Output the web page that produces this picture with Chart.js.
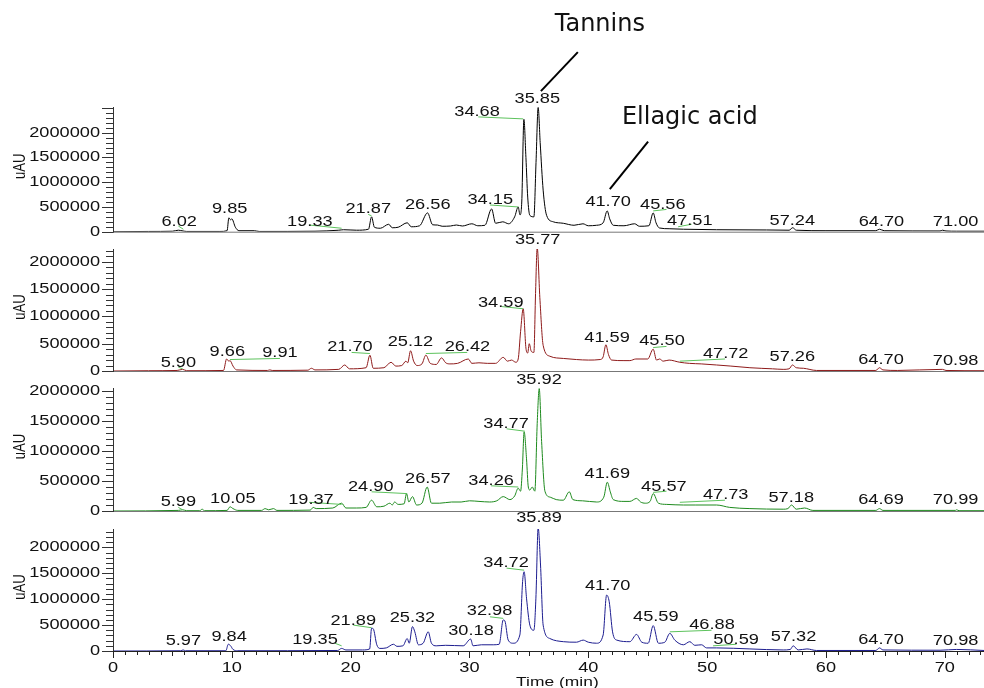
<!DOCTYPE html>
<html>
<head>
<meta charset="utf-8">
<title>HPLC chromatograms</title>
<script src="https://cdn.jsdelivr.net/npm/chart.js@4.4.1/dist/chart.umd.min.js"></script>
<style>
  html, body { margin: 0; padding: 0; background: #fff; }
  #wrap { position: relative; width: 984px; height: 688px; overflow: hidden; }
  #wrap canvas { position: absolute; left: 0; top: 0; }
</style>
</head>
<body>
<div id="wrap">
  <canvas id="c1" width="984" height="688"></canvas>
  <canvas id="c2" width="984" height="688"></canvas>
  <canvas id="c3" width="984" height="688"></canvas>
  <canvas id="c4" width="984" height="688"></canvas>
</div>
<script>
// ---- traces (time in min, signal in uAU) ----
const p1Times = [0, 3, 5.0, 5.5, 5.9, 6.2, 9.0, 9.6, 9.75, 9.9, 10.0, 10.3, 10.6, 11.9, 12.3, 17.0, 19.0, 19.4, 20.5, 21.5, 21.76, 22.0, 22.5, 23.2, 23.5, 24.0, 24.76, 25.1, 25.8, 26.47, 26.9, 27.3, 27.7, 28.4, 28.9, 29.4, 30.2, 30.7, 31.3, 31.86, 32.2, 32.8, 33.3, 33.8, 34.1, 34.25, 34.4, 34.58, 34.75, 34.9, 35.08, 35.42, 35.6, 35.78, 35.95, 36.2, 36.49, 37.05, 37.9, 38.8, 39.55, 40.0, 40.7, 41.25, 41.59, 41.8, 42.1, 43.0, 43.9, 44.3, 45.1, 45.46, 45.7, 45.99, 46.8, 48.0, 50.8, 55.0, 56.9, 57.2, 57.5, 60.0, 64.2, 64.5, 64.9, 69.6, 69.8, 70.1, 71.0, 73.3];
const p1Signal = [0, 5000, 10000, 30000, 15000, 5000, 5000, 20000, 280000, 240000, 260000, 90000, 20000, 20000, 5000, 10000, 30000, 40000, 30000, 50000, 300000, 90000, 70000, 150000, 80000, 90000, 180000, 100000, 120000, 380000, 140000, 135000, 110000, 115000, 135000, 115000, 160000, 120000, 130000, 460000, 170000, 200000, 160000, 300000, 500000, 340000, 600000, 2270000, 1500000, 700000, 330000, 300000, 1400000, 2510000, 1800000, 840000, 330000, 200000, 170000, 130000, 160000, 120000, 130000, 180000, 420000, 260000, 130000, 120000, 160000, 110000, 120000, 380000, 180000, 75000, 60000, 50000, 40000, 35000, 30000, 80000, 30000, 20000, 20000, 50000, 20000, 15000, 30000, 15000, 10000, 10000];

const p2Times = [0, 3, 5.4, 5.86, 6.2, 9.3, 9.56, 9.75, 9.85, 10.1, 10.4, 13.0, 13.2, 13.4, 16.4, 16.7, 17.0, 19.0, 19.5, 19.9, 21.3, 21.62, 21.9, 22.8, 23.4, 23.8, 24.3, 24.65, 24.8, 25.04, 25.3, 25.6, 26.0, 26.33, 26.7, 27.2, 27.65, 28.0, 28.35, 29.0, 29.9, 30.2, 30.8, 31.5, 32.2, 32.84, 33.2, 33.54, 33.9, 34.1, 34.3, 34.52, 34.75, 34.9, 35.03, 35.2, 35.42, 35.56, 35.7, 35.92, 36.2, 36.77, 37.9, 39.0, 40.0, 41.0, 41.25, 41.48, 41.7, 41.96, 43.0, 43.5, 44.0, 45.0, 45.46, 45.74, 46.0, 46.3, 46.8, 47.7, 48.5, 49.5, 50.8, 52.0, 53.6, 55.5, 56.4, 56.9, 57.18, 57.5, 58.1, 59.2, 64.2, 64.5, 64.8, 66.0, 69.8, 70.1, 73.3];
const p2Signal = [0, 5000, 10000, 30000, 5000, 10000, 220000, 180000, 190000, 90000, 20000, 10000, 20000, 10000, 15000, 50000, 20000, 30000, 110000, 40000, 60000, 290000, 50000, 60000, 160000, 90000, 100000, 180000, 150000, 370000, 180000, 100000, 130000, 290000, 140000, 120000, 240000, 150000, 130000, 140000, 220000, 140000, 150000, 140000, 140000, 250000, 180000, 200000, 160000, 220000, 720000, 1140000, 420000, 330000, 500000, 360000, 340000, 1420000, 2260000, 1350000, 470000, 270000, 230000, 210000, 200000, 210000, 260000, 480000, 300000, 200000, 190000, 190000, 220000, 220000, 400000, 200000, 220000, 180000, 200000, 160000, 140000, 130000, 110000, 90000, 60000, 40000, 30000, 40000, 110000, 60000, 50000, 10000, 10000, 60000, 20000, 10000, 30000, 10000, 5000];

const p3Times = [0, 5.5, 5.86, 6.2, 7.3, 7.5, 7.7, 9.6, 9.85, 10.1, 10.5, 12.5, 12.8, 13.1, 13.5, 13.8, 16.6, 16.85, 17.1, 18.5, 19.24, 19.6, 20.5, 21.3, 21.76, 22.2, 22.8, 23.3, 23.5, 23.7, 24.0, 24.5, 24.7, 24.9, 25.2, 25.55, 26.0, 26.44, 26.8, 27.5, 28.5, 29.3, 30.0, 30.8, 31.7, 32.3, 32.84, 33.4, 33.8, 34.1, 34.3, 34.45, 34.6, 34.8, 34.95, 35.08, 35.28, 35.5, 35.7, 35.87, 36.07, 36.35, 36.8, 37.3, 37.9, 38.4, 38.7, 39.5, 40.7, 41.3, 41.6, 41.85, 42.1, 43.0, 43.5, 44.06, 44.4, 44.8, 45.2, 45.46, 45.9, 46.6, 48.0, 49.0, 50.8, 51.9, 53.6, 56.4, 56.8, 57.1, 57.5, 58.2, 58.9, 64.2, 64.5, 64.8, 70.9, 71.0, 71.2, 73.3];
const p3Signal = [0, 10000, 20000, 5000, 5000, 30000, 5000, 10000, 70000, 40000, 10000, 10000, 40000, 20000, 40000, 10000, 15000, 60000, 40000, 50000, 130000, 50000, 50000, 60000, 180000, 70000, 80000, 130000, 100000, 150000, 110000, 120000, 290000, 150000, 240000, 100000, 130000, 400000, 130000, 130000, 150000, 150000, 170000, 160000, 150000, 170000, 240000, 190000, 250000, 380000, 330000, 700000, 1320000, 870000, 400000, 350000, 400000, 330000, 1460000, 2040000, 1160000, 330000, 230000, 190000, 180000, 320000, 190000, 170000, 150000, 230000, 480000, 320000, 190000, 160000, 160000, 210000, 150000, 130000, 160000, 290000, 130000, 110000, 100000, 100000, 100000, 60000, 40000, 30000, 40000, 100000, 30000, 50000, 10000, 10000, 40000, 10000, 10000, 20000, 5000, 5000];

const p4Times = [0, 5.7, 5.9, 6.1, 9.5, 9.7, 9.9, 10.1, 10.5, 18.9, 19.24, 19.6, 21.0, 21.6, 21.76, 21.9, 22.2, 22.46, 23.0, 23.6, 23.9, 24.4, 24.76, 24.93, 25.2, 25.4, 25.7, 26.1, 26.53, 26.8, 27.2, 28.0, 29.47, 30.1, 30.3, 31.0, 32.0, 32.5, 32.84, 32.98, 33.26, 33.68, 34.24, 34.47, 34.6, 34.8, 35.08, 35.42, 35.59, 35.78, 35.98, 36.2, 36.77, 37.9, 39.0, 39.57, 40.0, 40.7, 41.25, 41.54, 41.76, 42.04, 42.4, 43.5, 44.06, 44.5, 45.04, 45.46, 45.9, 46.44, 46.86, 47.28, 48.0, 48.54, 48.96, 49.53, 49.95, 50.8, 53.6, 56.4, 57.0, 57.24, 57.66, 58.4, 59.2, 64.2, 64.5, 64.8, 69.6, 71.0, 73.3];
const p4Signal = [0, 5000, 20000, 5000, 5000, 130000, 100000, 30000, 5000, 10000, 50000, 20000, 20000, 40000, 440000, 430000, 120000, 50000, 60000, 130000, 90000, 100000, 240000, 150000, 470000, 370000, 120000, 150000, 370000, 150000, 100000, 110000, 100000, 230000, 100000, 120000, 120000, 130000, 600000, 580000, 210000, 150000, 310000, 1340000, 1530000, 1020000, 500000, 400000, 1020000, 2380000, 1660000, 500000, 240000, 180000, 170000, 210000, 170000, 150000, 310000, 1080000, 950000, 370000, 210000, 180000, 320000, 170000, 150000, 490000, 150000, 170000, 340000, 210000, 120000, 180000, 110000, 120000, 60000, 60000, 40000, 20000, 30000, 100000, 20000, 40000, 10000, 10000, 60000, 20000, 15000, 30000, 10000];

// ---- peak labels (centre time, centre signal) ----
const p1PeakText = ['6.02', '9.85', '19.33', '21.87', '26.56', '34.15', '34.68', '35.85', '41.70', '45.56', '47.51', '57.24', '64.70', '71.00'];
const p1PeakX = [5.57, 9.82, 16.57, 21.48, 26.49, 31.75, 30.64, 35.71, 41.67, 46.27, 48.54, 57.17, 64.67, 70.91];
const p1PeakY = [190000, 460000, 190000, 460000, 540000, 640000, 2420000, 2670000, 590000, 540000, 220000, 220000, 190000, 190000];
const p1Leaders = [[5.5, 115000, 5.92, 50000], [16.5, 135000, 19.24, 70000], [21.48, 350000, 21.76, 320000], [31.72, 540000, 34.1, 500000], [30.74, 2320000, 34.52, 2280000], [45.46, 420000, 46.58, 450000], [47.56, 100000, 48.69, 150000]];

const p2PeakText = ['5.90', '9.66', '9.91', '21.70', '25.12', '26.42', '34.59', '35.77', '41.59', '45.50', '47.72', '57.26', '64.70', '70.98'];
const p2PeakX = [5.5, 9.62, 14.05, 19.94, 25.03, 29.83, 32.63, 35.74, 41.58, 46.2, 51.56, 57.17, 64.63, 70.91];
const p2PeakY = [150000, 350000, 320000, 430000, 530000, 430000, 1250000, 2400000, 610000, 540000, 300000, 260000, 200000, 180000];
const p2Leaders = [[5.5, 70000, 5.86, 40000], [9.84, 210000, 14.05, 230000], [20.08, 340000, 21.62, 320000], [26.33, 320000, 29.81, 340000], [32.7, 1180000, 34.52, 1140000], [45.46, 430000, 46.58, 450000], [47.7, 180000, 51.5, 220000]];

const p3PeakText = ['5.99', '10.05', '19.37', '24.90', '26.57', '34.26', '34.77', '35.92', '41.69', '45.57', '47.73', '57.18', '64.69', '70.99'];
const p3PeakX = [5.5, 10.08, 16.66, 21.69, 26.5, 31.82, 33.08, 35.85, 41.6, 46.36, 51.56, 57.08, 64.63, 70.91];
const p3PeakY = [140000, 200000, 180000, 400000, 530000, 500000, 1440000, 2180000, 610000, 400000, 260000, 220000, 180000, 180000];
const p3Leaders = [[5.5, 60000, 5.86, 20000], [16.5, 145000, 19.24, 110000], [21.76, 320000, 24.76, 290000], [31.8, 420000, 34.1, 400000], [33.12, 1370000, 34.66, 1330000], [45.46, 310000, 46.58, 330000], [47.7, 145000, 51.5, 180000]];

const p4PeakText = ['5.97', '9.84', '19.35', '21.89', '25.32', '30.18', '32.98', '34.72', '35.89', '41.70', '45.59', '46.88', '50.59', '57.32', '64.70', '70.98'];
const p4PeakX = [5.92, 9.77, 17.0, 20.22, 25.2, 30.13, 31.69, 33.08, 35.85, 41.63, 45.68, 50.41, 52.44, 57.27, 64.63, 70.91];
const p4PeakY = [190000, 260000, 210000, 580000, 630000, 390000, 760000, 1690000, 2560000, 1260000, 660000, 500000, 210000, 260000, 210000, 190000];
const p4Leaders = [[18.68, 150000, 19.24, 100000], [20.22, 500000, 21.76, 450000], [31.72, 660000, 32.84, 630000], [33.12, 1600000, 34.6, 1560000], [46.86, 370000, 50.37, 400000], [50.5, 100000, 52.47, 130000]];

// axis tick labels
const yTickLabels = ['0', '500000', '1000000', '1500000', '2000000'];
const xTickLabels = ['0', '10', '20', '30', '40', '50', '60', '70'];

// callouts on the top trace: [text, textX, textY, fromX, fromY, toX, toY]
const callouts = [
  ['Tannins', 40.97, 4180000, 39.12, 3630000, 36.01, 2840000],
  ['Ellagic acid', 48.54, 2300000, 45.03, 1820000, 41.81, 860000]
];

const X_MAX = 73.3;
const STRETCH = 1.3;

function wideText(ctx, text, x, y, align, sx) {
  ctx.save();
  ctx.translate(x, y);
  ctx.scale(sx, 1);
  ctx.textAlign = align;
  ctx.fillText(text, 0, 0);
  ctx.restore();
}

const panels = [
  { id: 'c1', t: p1Times, s: p1Signal, color: '#000000', top: 107, base: 231.7, ymax: 2520000,
    txt: p1PeakText, lx: p1PeakX, ly: p1PeakY, leaders: p1Leaders, callouts: true },
  { id: 'c2', t: p2Times, s: p2Signal, color: '#8e1a1a', top: 249, base: 371, ymax: 2234000,
    txt: p2PeakText, lx: p2PeakX, ly: p2PeakY, leaders: p2Leaders },
  { id: 'c3', t: p3Times, s: p3Signal, color: '#1d8a1d', top: 388, base: 511, ymax: 2050000,
    txt: p3PeakText, lx: p3PeakX, ly: p3PeakY, leaders: p3Leaders },
  { id: 'c4', t: p4Times, s: p4Signal, color: '#1c1c8f', top: 529, base: 651, ymax: 2355000,
    txt: p4PeakText, lx: p4PeakX, ly: p4PeakY, leaders: p4Leaders, xAxis: true }
];

const decor = {
  id: 'decor',
  afterDraw(chart, args, opts) {
    const p = opts.panel;
    const ctx = chart.ctx;
    const xs = chart.scales.x, ys = chart.scales.y;
    const left = chart.chartArea.left, right = chart.chartArea.right;
    const y0 = ys.getPixelForValue(0), yTop = chart.chartArea.top;
    ctx.save();

    // leader lines
    ctx.strokeStyle = '#5cc25c';
    ctx.lineWidth = 1;
    p.leaders.forEach(l => {
      ctx.beginPath();
      ctx.moveTo(xs.getPixelForValue(l[0]), ys.getPixelForValue(l[1]));
      ctx.lineTo(xs.getPixelForValue(l[2]), ys.getPixelForValue(l[3]));
      ctx.stroke();
    });

    // baseline
    ctx.strokeStyle = p.xAxis ? '#222' : '#777';
    ctx.lineWidth = p.xAxis ? 1.2 : 1;
    ctx.beginPath();
    ctx.moveTo(left, y0 + 0.5);
    ctx.lineTo(right, y0 + 0.5);
    ctx.stroke();

    // y axis
    ctx.strokeStyle = '#333';
    ctx.lineWidth = 1;
    ctx.beginPath();
    ctx.moveTo(left + 0.5, yTop);
    ctx.lineTo(left + 0.5, y0 + 1);
    for (let v = 0; v <= p.ymax; v += 100000) {
      const py = Math.round(ys.getPixelForValue(v)) + 0.5;
      const len = v % 500000 === 0 ? 11 : 7;
      ctx.moveTo(left - len, py);
      ctx.lineTo(left, py);
    }
    ctx.stroke();

    ctx.fillStyle = '#111';
    ctx.font = '14px "Liberation Sans", Arial, sans-serif';
    ctx.textBaseline = 'middle';
    yTickLabels.forEach(lbl => {
      wideText(ctx, lbl, left - 13, ys.getPixelForValue(Number(lbl)), 'right', STRETCH);
    });

    // y title
    ctx.save();
    ctx.translate(20, (yTop + y0) / 2 - 3);
    ctx.rotate(-Math.PI / 2);
    ctx.scale(1, STRETCH);
    ctx.font = '13px "Liberation Sans", Arial, sans-serif';
    ctx.textAlign = 'center';
    ctx.fillText('uAU', 0, 0);
    ctx.restore();

    // peak labels
    ctx.font = '14px "Liberation Sans", Arial, sans-serif';
    p.txt.forEach((t, i) => {
      wideText(ctx, t, xs.getPixelForValue(p.lx[i]), ys.getPixelForValue(p.ly[i]), 'center', STRETCH);
    });

    // bottom time axis
    if (p.xAxis) {
      ctx.strokeStyle = '#222';
      ctx.beginPath();
      for (let m = 0; m <= X_MAX; m += 1) {
        const px = Math.round(xs.getPixelForValue(m)) + 0.5;
        const len = m % 10 === 0 ? 7 : (m % 5 === 0 ? 5 : 4);
        ctx.moveTo(px, y0);
        ctx.lineTo(px, y0 + len);
      }
      ctx.stroke();
      ctx.font = '14px "Liberation Sans", Arial, sans-serif';
      xTickLabels.forEach(lbl => {
        wideText(ctx, lbl, xs.getPixelForValue(Number(lbl)), y0 + 17, 'center', STRETCH);
      });
      ctx.font = '13px "Liberation Sans", Arial, sans-serif';
      wideText(ctx, 'Time (min)', xs.getPixelForValue(37.4), y0 + 31, 'center', 1.34);
    }

    // callouts
    if (p.callouts) {
      ctx.strokeStyle = '#000';
      ctx.lineWidth = 2;
      ctx.font = '24px "DejaVu Sans", Verdana, sans-serif';
      ctx.textAlign = 'center';
      callouts.forEach(c => {
        ctx.beginPath();
        ctx.moveTo(xs.getPixelForValue(c[3]), ys.getPixelForValue(c[4]));
        ctx.lineTo(xs.getPixelForValue(c[5]), ys.getPixelForValue(c[6]));
        ctx.stroke();
        ctx.fillText(c[0], xs.getPixelForValue(c[1]), ys.getPixelForValue(c[2]));
      });
    }
    ctx.restore();
  }
};

panels.forEach(p => {
  new Chart(document.getElementById(p.id), {
    type: 'line',
    data: {
      datasets: [{
        data: p.t.map((t, i) => ({ x: t, y: p.s[i] })),
        borderColor: p.color,
        borderWidth: 1,
        pointRadius: 0,
        fill: false,
        cubicInterpolationMode: 'monotone'
      }]
    },
    options: {
      responsive: false,
      animation: false,
      devicePixelRatio: 1,
      events: [],
      layout: { autoPadding: false, padding: { left: 113, right: 0, top: p.top, bottom: 688 - p.base } },
      scales: {
        x: { type: 'linear', min: 0, max: X_MAX, display: false },
        y: { min: 0, max: p.ymax, display: false }
      },
      plugins: {
        legend: { display: false },
        tooltip: { enabled: false },
        decor: { panel: p }
      }
    },
    plugins: [decor]
  });
});
</script>
</body>
</html>
